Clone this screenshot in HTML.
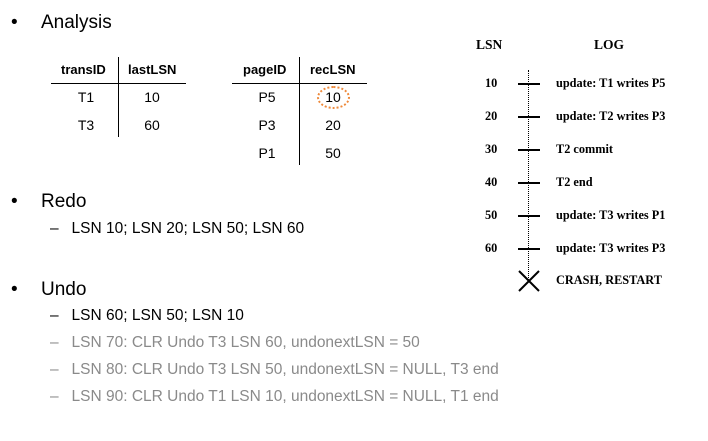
<!DOCTYPE html>
<html><head><style>
body{margin:0;width:708px;height:441px;background:#fff;position:relative;overflow:hidden;font-family:"Liberation Sans",sans-serif;color:#000}
.a{position:absolute;white-space:nowrap;line-height:1}
.b{font-size:19px}
.s{font-size:15.5px}
.h{font-size:13px;font-weight:bold}
.c{font-size:14px;text-align:center;width:60px}
.g{color:#8a8a8a}
.t{font-family:"Liberation Serif",serif;font-weight:bold;font-size:12.3px}
.ln{position:absolute;background:#000}
</style></head><body>
<div class="a b" style="left:11px;top:13px">•</div><div class="a b" style="left:41px;top:13px">Analysis</div>
<div class="a h" style="left:61px;top:63px">transID</div><div class="a h" style="left:128px;top:63px">lastLSN</div>
<div class="ln" style="left:118px;top:57px;width:1px;height:80px"></div>
<div class="ln" style="left:51px;top:83px;width:135px;height:1px"></div>
<div class="a c" style="left:56px;top:90px">T1</div><div class="a c" style="left:122px;top:90px">10</div>
<div class="a c" style="left:56px;top:118px">T3</div><div class="a c" style="left:122px;top:118px">60</div>
<div class="a h" style="left:243px;top:63px">pageID</div><div class="a h" style="left:310px;top:63px">recLSN</div>
<div class="ln" style="left:299px;top:57px;width:1px;height:108px"></div>
<div class="ln" style="left:232px;top:83px;width:135px;height:1px"></div>
<div class="a c" style="left:237px;top:90px">P5</div><div class="a c" style="left:303px;top:90px">10</div>
<div class="a c" style="left:237px;top:118px">P3</div><div class="a c" style="left:303px;top:118px">20</div>
<div class="a c" style="left:237px;top:146px">P1</div><div class="a c" style="left:303px;top:146px">50</div>
<div style="position:absolute;left:317px;top:86px;width:29px;height:19px;border:2px dotted #ee8a3c;border-radius:50%"></div>
<div class="a b" style="left:11px;top:192px">•</div><div class="a b" style="left:41px;top:192px">Redo</div>
<div class="a s" style="left:50px;top:221px">–&nbsp;&nbsp; LSN 10; LSN 20; LSN 50; LSN 60</div>
<div class="a b" style="left:11px;top:280px">•</div><div class="a b" style="left:41px;top:280px">Undo</div>
<div class="a s" style="left:50px;top:308px">–&nbsp;&nbsp; LSN 60; LSN 50; LSN 10</div>
<div class="a s g" style="left:50px;top:335px">–&nbsp;&nbsp; LSN 70: CLR Undo T3 LSN 60, undonextLSN = 50</div>
<div class="a s g" style="left:50px;top:362px">–&nbsp;&nbsp; LSN 80: CLR Undo T3 LSN 50, undonextLSN = NULL, T3 end</div>
<div class="a s g" style="left:50px;top:389px">–&nbsp;&nbsp; LSN 90: CLR Undo T1 LSN 10, undonextLSN = NULL, T1 end</div>
<div class="a t" style="left:476px;top:38px;font-size:13.5px">LSN</div>
<div class="a t" style="left:594px;top:38px;font-size:13.5px">LOG</div>
<div style="position:absolute;left:528px;top:70px;height:210px;border-left:1px dotted #000"></div>
<div class="a t" style="left:485px;top:77px">10</div><div class="ln" style="left:518px;top:83px;width:22px;height:2px"></div><div class="a t" style="left:556px;top:77px">update: T1 writes P5</div>
<div class="a t" style="left:485px;top:110px">20</div><div class="ln" style="left:518px;top:116px;width:22px;height:2px"></div><div class="a t" style="left:556px;top:110px">update: T2 writes P3</div>
<div class="a t" style="left:485px;top:143px">30</div><div class="ln" style="left:518px;top:149px;width:22px;height:2px"></div><div class="a t" style="left:556px;top:143px">T2 commit</div>
<div class="a t" style="left:485px;top:176px">40</div><div class="ln" style="left:518px;top:182px;width:22px;height:2px"></div><div class="a t" style="left:556px;top:176px">T2 end</div>
<div class="a t" style="left:485px;top:209px">50</div><div class="ln" style="left:518px;top:215px;width:22px;height:2px"></div><div class="a t" style="left:556px;top:209px">update: T3 writes P1</div>
<div class="a t" style="left:485px;top:242px">60</div><div class="ln" style="left:518px;top:248px;width:22px;height:2px"></div><div class="a t" style="left:556px;top:242px">update: T3 writes P3</div>
<svg style="position:absolute;left:517px;top:269px" width="24" height="24"><path d="M2 2L22 22M22 2L2 22" stroke="#000" stroke-width="2"/></svg>
<div class="a t" style="left:556px;top:274px">CRASH, RESTART</div>
</body></html>
